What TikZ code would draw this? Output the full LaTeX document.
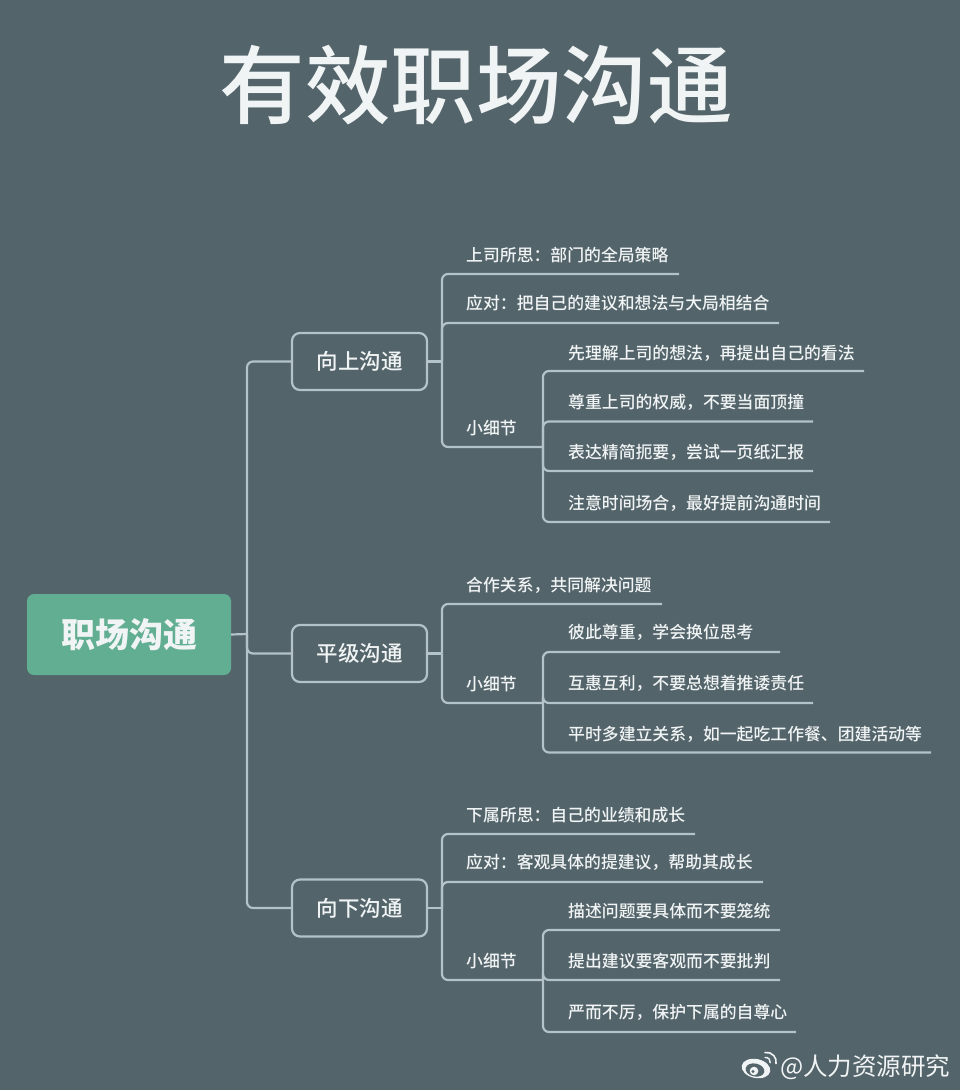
\documentclass[tikz,border=0pt]{standalone}
\usepackage{fontspec}
\setmainfont{Noto Sans CJK SC}
\newfontfamily\medfont{Noto Sans CJK SC Medium}
\usetikzlibrary{positioning}
\definecolor{bgcol}{HTML}{53646B}
\definecolor{linecol}{HTML}{B4C3C9}
\definecolor{txtcol}{HTML}{F1F4F4}
\definecolor{rootcol}{HTML}{62AE92}
\tikzset{
	link/.style={draw=linecol,line width=2.2pt,rounded corners=6pt},
	leaf/.style={anchor=west,inner sep=0pt,text=txtcol,font=\medfont\fontsize{16.85}{20}\selectfont},
	midbox/.style={draw=linecol,line width=2.2pt,rounded corners=8pt,minimum width=135pt,minimum height=57pt,inner sep=0pt,text=txtcol,font=\medfont\fontsize{21.5}{24}\selectfont},
	rootbox/.style={fill=rootcol,rounded corners=7pt,minimum width=204pt,minimum height=81pt,inner sep=0pt,text=txtcol,font=\bfseries\fontsize{34}{38}\selectfont}
}
\begin{document}
\begin{tikzpicture}[x=1pt,y=-1pt]
	\fill[bgcol] (0,0) rectangle (960,1090);
	\useasboundingbox (0,0) rectangle (960,1090);
	\node[text=txtcol,inner sep=0pt,font=\medfont\fontsize{85.5}{90}\selectfont] (title) at (476,85.5) {有效职场沟通};
	% centro e rami
	\node[rootbox] (root) at (129,634.5) {职场沟通};
	\node[midbox] (upm) at (359.5,361.5) {向上沟通};
	\node[midbox] (eqm) at (359.5,653.5) {平级沟通};
	\node[midbox] (dnm) at (359.5,908) {向下沟通};
	\coordinate (trunk) at (247,634);
	\coordinate (upj) at (442,361.5);
	\coordinate (eqj) at (442,653.5);
	\coordinate (dnj) at (442,908);
	% foglie di primo livello
	\foreach \nm/\ty/\ly/\ex/\txt in {
		upa/255.5/274/679/上司所思：部门的全局策略,
		upb/303.5/323/779/应对：把自己的建议和想法与大局相结合,
		upc/428.5/447/543/小细节,
		eqa/585.5/604/662/合作关系，共同解决问题,
		eqb/684.5/703/543/小细节,
		dna/815.5/834/695/下属所思：自己的业绩和成长,
		dnb/862.5/882/763/应对：客观具体的提建议，帮助其成长,
		dnc/961.5/980/543/小细节}{
		\node[leaf] (\nm) at (466,\ty) {\txt};
		\coordinate (\nm e) at (\ex,\ly);
	}
	% foglie di secondo livello
	\foreach \nm/\ty/\ly/\ex/\txt in {
		upd/353.5/371/864/先理解上司的想法，再提出自己的看法,
		upf/402.5/421.5/813/尊重上司的权威，不要当面顶撞,
		upg/452.5/471/813/表达精简扼要，尝试一页纸汇报,
		uph/503.5/522/830/注意时间场合，最好提前沟通时间,
		eqc/632.5/652/780/彼此尊重，学会换位思考,
		eqd/683.5/703/813/互惠互利，不要总想着推诿责任,
		eqf/734.5/752.5/931/平时多建立关系，如一起吃工作餐、团建活动等,
		dnd/911.5/930/780/描述问题要具体而不要笼统,
		dnf/961.5/980/780/提出建议要客观而不要批判,
		dng/1012.5/1032/796/严而不厉，保护下属的自尊心}{
		\node[leaf] (\nm) at (568,\ty) {\txt};
		\coordinate (\nm e) at (\ex,\ly);
	}
	% collegamenti
	\draw[link] (root.east) -- (trunk);
	\foreach \m in {upm,eqm,dnm}
		\draw[link] (\m.west) -| (trunk);
	\draw[link] (upm.east) -- (upj);
	\draw[link] (eqm.east) -- (eqj);
	\draw[link] (dnm.east) -- (dnj);
	\foreach \a in {upa,upb,upc}
		\draw[link] (\a e) -| (upj);
	\foreach \a in {eqa,eqb}
		\draw[link] (\a e) -| (eqj);
	\foreach \a in {dna,dnb,dnc}
		\draw[link] (\a e) -| (dnj);
	\foreach \a in {upd,upf,upg,uph}
		\draw[link] (\a e) -| (upce);
	\foreach \a in {eqc,eqd,eqf}
		\draw[link] (\a e) -| (eqbe);
	\foreach \a in {dnd,dnf,dng}
		\draw[link] (\a e) -| (dnce);
	% firma
	\fill[txtcol,rotate around={-12:(756,1068.5)}] (756,1068.5) ellipse (14.5pt and 9.5pt);
	\fill[bgcol,rotate around={-12:(755,1070)}] (755,1070) ellipse (9.5pt and 6.5pt);
	\fill[txtcol] (754,1071) circle (4.3pt);
	\fill[bgcol] (753,1071.5) circle (1.7pt);
	\draw[txtcol,line width=1.4pt,line cap=round] (765,1057.5) arc (100:-10:4.5pt);
	\draw[txtcol,line width=1.6pt,line cap=round] (765,1052.5) arc (100:-10:9.5pt);
	\node[anchor=west,inner sep=0pt,text=txtcol,font=\fontsize{24.5}{28}\selectfont] (mark) at (780,1067) {@人力资源研究};
\end{tikzpicture}
\end{document}
